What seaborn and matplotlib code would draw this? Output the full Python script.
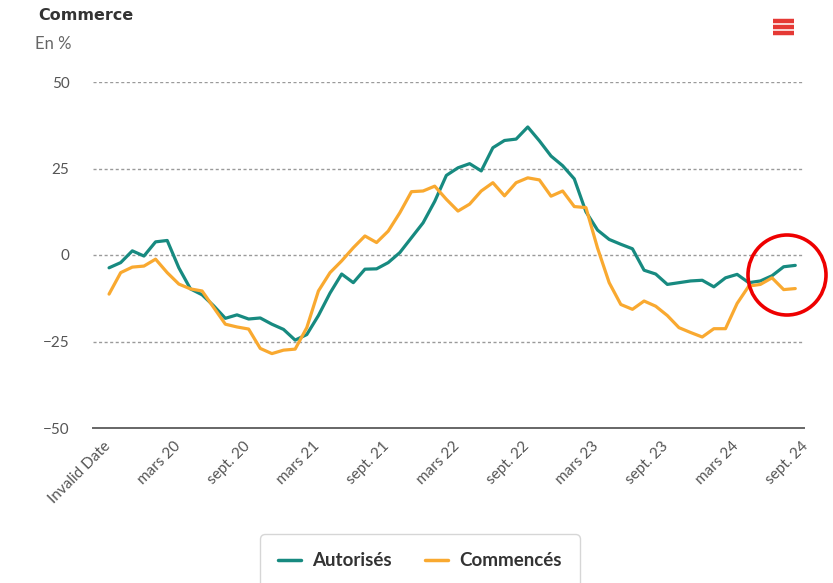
import numpy as np
import pandas as pd
import matplotlib
matplotlib.use("Agg")
import matplotlib.pyplot as plt
import seaborn as sns
from matplotlib.patches import Ellipse
from matplotlib.lines import Line2D

# ---- data ----
tick_labels = ["Invalid Date", "mars 20", "sept. 20", "mars 21", "sept. 21", "mars 22",
               "sept. 22", "mars 23", "sept. 23", "mars 24", "sept. 24"]

autorises = [-3.7, -2.2, 1.2, -0.3, 3.8, 4.2, -3.7, -9.8, -11.5, -14.7,
             -18.3, -17.3, -18.5, -18.2, -20.0, -21.5, -24.6, -23.0, -17.5, -11.0,
             -5.5, -8.0, -4.1, -4.0, -2.2, 0.7, 5.0, 9.3, 15.5, 23.0,
             25.2, 26.4, 24.3, 31.0, 33.1, 33.5, 37.0, 33.0, 28.6, 25.8,
             22.0, 12.5, 7.2, 4.5, 3.1, 1.8, -4.4, -5.5, -8.5, -8.0,
             -7.5, -7.3, -9.2, -6.6, -5.6, -8.0, -7.5, -6.0, -3.4, -3.0]

commences = [-11.3, -5.1, -3.5, -3.2, -1.2, -5.1, -8.4, -9.8, -10.4, -15.2,
             -20.0, -20.8, -21.4, -27.0, -28.5, -27.5, -27.2, -21.0, -10.4, -5.1,
             -1.7, 2.1, 5.5, 3.6, 6.9, 12.2, 18.3, 18.5, 19.9, 16.1,
             12.7, 14.7, 18.5, 20.9, 17.1, 20.9, 22.3, 21.7, 17.0, 18.5,
             14.0, 13.7, 2.0, -8.0, -14.3, -15.7, -13.3, -14.8, -17.5, -21.0,
             -22.4, -23.7, -21.3, -21.3, -14.0, -9.0, -8.5, -6.6, -10.0, -9.7]

series_names = ["Autorisés", "Commencés"]
colors = ["#178a80", "#f9a930"]
y_ticks = [-50, -25, 0, 25, 50]

# ---- build long-form table ----
months = np.arange(len(autorises))
df = pd.DataFrame({
    "mois": np.concatenate([months, months]),
    "valeur": autorises + commences,
    "série": [series_names[0]] * len(autorises) + [series_names[1]] * len(commences),
})

sns.set_theme(style="white")
plt.rcParams["font.family"] = ["Lato", "DejaVu Sans"]

fig = plt.figure(figsize=(8.33, 5.83), dpi=100)
ax = fig.add_axes([93 / 833, 1 - 428 / 583, (804 - 93) / 833, (428 - 82) / 583])

sns.lineplot(data=df, x="mois", y="valeur", hue="série", palette=colors,
             linewidth=2.3, ax=ax, legend=False)

ax.set_xlim(-1.38, 59.75)
ax.set_ylim(-50, 50)

# grid lines
for yv in y_ticks:
    if yv == -50:
        continue
    ax.axhline(yv, color="#9a9a9a", lw=1.0, ls=(0, (2.2, 1.8)), zorder=0)

for s in ["top", "right", "left"]:
    ax.spines[s].set_visible(False)
ax.spines["bottom"].set_color("#666666")
ax.spines["bottom"].set_linewidth(1.4)

ax.set_yticks(y_ticks)
ax.set_yticklabels(["\u221250", "\u221225", "0", "25", "50"])
ax.tick_params(axis="y", length=0, pad=17, labelsize=11, labelcolor="#555555")

xt = [6 * i - 0.5 for i in range(len(tick_labels))]
ax.set_xticks(xt)
ax.set_xticklabels(tick_labels, rotation=45, ha="right", rotation_mode="anchor")
ax.tick_params(axis="x", length=0, pad=8, labelsize=11, labelcolor="#555555")
ax.set_xlabel("")
ax.set_ylabel("")
ax.grid(False)

# titles
fig.text(38 / 833, 1 - 16 / 583, "Commerce", fontsize=11.5, fontweight="bold",
         color="#333333", ha="left", va="center", family="DejaVu Sans")
fig.text(35 / 833, 1 - 44 / 583, "En %", fontsize=12, color="#666666",
         ha="left", va="center")

# legend
handles = [Line2D([0], [0], color=c, lw=2.5) for c in colors]
leg = fig.legend(handles, series_names, loc="center", bbox_to_anchor=(420 / 833, 1 - 561 / 583),
                 ncol=2, frameon=True, handlelength=1.2, handletextpad=0.6,
                 columnspacing=1.8, borderpad=0.8, prop={"weight": "bold", "size": 13.5})
leg.get_frame().set_edgecolor("#cccccc")
leg.get_frame().set_linewidth(1.0)
leg.get_frame().set_boxstyle("round,pad=0.2,rounding_size=0.3")
for t in leg.get_texts():
    t.set_color("#333333")

# menu icon
for yy in [21, 27, 33]:
    fig.add_artist(Line2D([773 / 833, 794 / 833], [1 - yy / 583, 1 - yy / 583],
                          color="#e53935", lw=3.2, solid_capstyle="butt"))

# red circle annotation
fig.add_artist(Ellipse((787 / 833, 1 - 275 / 583), 78 / 833, 80 / 583,
                       transform=fig.transFigure, fill=False, edgecolor="#ee0000", lw=2.6))

fig.savefig("out.png", dpi=100)
